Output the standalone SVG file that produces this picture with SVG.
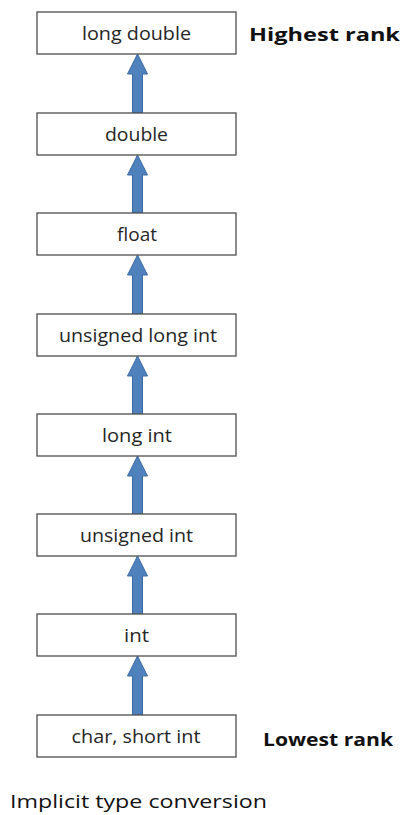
<svg xmlns="http://www.w3.org/2000/svg" width="405" height="815" viewBox="0 0 405 815">
<style>
.box{fill:#fff;stroke:#4d4d4d;stroke-width:1.3}
.lbl{font-family:"Open Sans","Liberation Sans",sans-serif;font-size:18.5px;fill:#262626;text-anchor:middle}
.rank{font-family:"Open Sans","Liberation Sans",sans-serif;font-size:18.5px;font-weight:bold;fill:#111}
.cap{font-family:"Open Sans","Liberation Sans",sans-serif;font-size:18.5px;fill:#111}
.arr{fill:#4f81bd;stroke:#3b6aa3;stroke-width:1}
</style>
<defs>
<path id="up" d="M0,0 L10,20 L5,20 L5,59 L-5,59 L-5,20 L-10,20 Z"/>
</defs>
<rect width="405" height="815" fill="#fff"/>
<g id="connectors">
<use href="#up" class="arr" x="137.5" y="54"/>
<use href="#up" class="arr" x="137.5" y="155"/>
<use href="#up" class="arr" x="137.5" y="255"/>
<use href="#up" class="arr" x="137.5" y="356"/>
<use href="#up" class="arr" x="137.5" y="456"/>
<use href="#up" class="arr" x="137.5" y="556"/>
<use href="#up" class="arr" x="137.5" y="656"/>
</g>
<g id="n_longdouble"><rect class="box" x="37" y="12" width="199" height="42"/><text class="lbl" x="136.5" y="40" textLength="109" lengthAdjust="spacingAndGlyphs">long double</text></g>
<g id="n_double"><rect class="box" x="37" y="113" width="199" height="42"/><text class="lbl" x="136.5" y="141" textLength="63" lengthAdjust="spacingAndGlyphs">double</text></g>
<g id="n_float"><rect class="box" x="37" y="213" width="199" height="42"/><text class="lbl" x="137" y="241" textLength="40" lengthAdjust="spacingAndGlyphs">float</text></g>
<g id="n_ulongint"><rect class="box" x="37" y="314" width="199" height="42"/><text class="lbl" x="138" y="342" textLength="158" lengthAdjust="spacingAndGlyphs">unsigned long int</text></g>
<g id="n_longint"><rect class="box" x="37" y="414" width="199" height="42"/><text class="lbl" x="137" y="442" textLength="70" lengthAdjust="spacingAndGlyphs">long int</text></g>
<g id="n_uint"><rect class="box" x="37" y="514" width="199" height="42"/><text class="lbl" x="136.5" y="542" textLength="113" lengthAdjust="spacingAndGlyphs">unsigned int</text></g>
<g id="n_int"><rect class="box" x="37" y="614" width="199" height="42"/><text class="lbl" x="136.5" y="642" textLength="25" lengthAdjust="spacingAndGlyphs">int</text></g>
<g id="n_char"><rect class="box" x="37" y="715" width="199" height="42"/><text class="lbl" x="136" y="743" textLength="129" lengthAdjust="spacingAndGlyphs">char, short int</text></g>
<text class="rank" x="249" y="41" textLength="151" lengthAdjust="spacingAndGlyphs">Highest rank</text>
<text class="rank" x="263" y="746" textLength="130" lengthAdjust="spacingAndGlyphs">Lowest rank</text>
<text class="cap" x="10" y="808" textLength="257" lengthAdjust="spacingAndGlyphs">Implicit type conversion</text>
</svg>
